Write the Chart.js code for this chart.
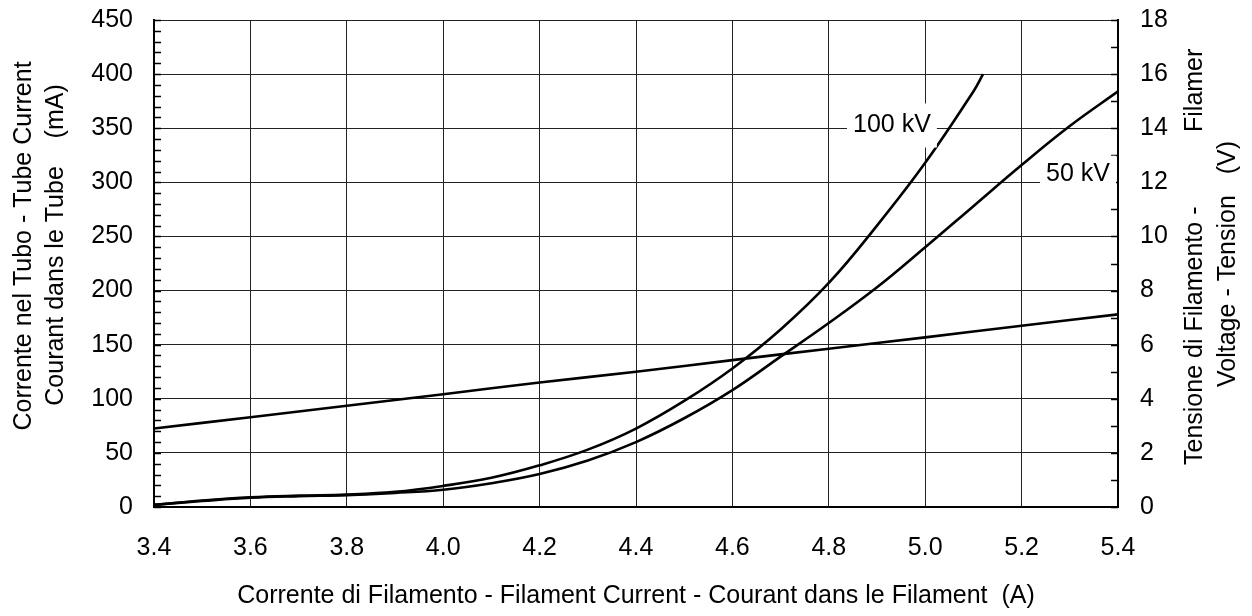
<!DOCTYPE html>
<html>
<head>
<meta charset="utf-8">
<script src="https://cdn.jsdelivr.net/npm/chart.js@4"></script>
<style>
  html, body { margin: 0; padding: 0; background: #fff; overflow: hidden; }
  #wrap { width: 1252px; height: 616px; }
</style>
</head>
<body>
<div id="wrap"><canvas id="tubeChart" width="1252" height="616"></canvas></div>
<script>
// filament current (A) -> tube current (mA), two anode voltages
const current100 = [3.4, 3.5, 3.6, 3.7, 3.8, 3.9, 4.0, 4.1, 4.2, 4.3, 4.4, 4.5, 4.6, 4.7, 4.8, 4.9, 5.0, 5.1, 5.12];
const tube100kV  = [2, 6, 9, 10.5, 11.5, 14, 19.5, 27, 38.5, 53, 72.5, 98, 128, 164, 207, 260, 318, 384, 400];

const current50 = [3.4, 3.5, 3.6, 3.7, 3.8, 3.9, 4.0, 4.1, 4.2, 4.3, 4.4, 4.5, 4.6, 4.7, 4.8, 4.9, 5.0, 5.1, 5.2, 5.3, 5.4];
const tube50kV  = [2, 5.5, 8.5, 10, 11, 13, 16, 22, 30.5, 43, 60, 82, 108, 139, 170, 203, 240, 278, 316, 352, 384];

// filament current (A) -> filament voltage (V), right axis
const currentV = [3.4, 3.6, 3.8, 4.0, 4.2, 4.4, 4.6, 4.8, 5.0, 5.2, 5.4];
const filamentVoltage = [2.9, 3.32, 3.74, 4.17, 4.6, 5.0, 5.43, 5.85, 6.27, 6.7, 7.12];

const curveLabels = ['100 kV', '50 kV'];
const curveLabelAt = [[4.931, 352.5], [5.317, 308]];

const FONT = '"Liberation Sans", Arial, sans-serif';
const toXY = (xs, ys) => xs.map((x, i) => ({ x: x, y: ys[i] }));

const extras = {
    id: 'extras',
    beforeDatasetsDraw(c) {
        const ctx = c.ctx, a = c.chartArea;
        const y = c.scales.y, y2 = c.scales.y2;
        ctx.save();
        ctx.strokeStyle = '#000';
        ctx.lineWidth = 1.5;
        ctx.beginPath();
        for (let v = 0; v <= 450; v += 10) {
            const py = Math.round(y.getPixelForValue(v)) + 0.5;
            ctx.moveTo(a.left, py); ctx.lineTo(a.left + 7, py);
        }
        for (let v = 0; v <= 18; v += 1) {
            const py = Math.round(y2.getPixelForValue(v)) + 0.5;
            ctx.moveTo(a.right - 7, py); ctx.lineTo(a.right, py);
        }
        ctx.stroke();
        ctx.restore();
    },
    afterDatasetsDraw(c) {
        const ctx = c.ctx;
        ctx.save();
        ctx.font = '25px ' + FONT;
        ctx.textAlign = 'center';
        ctx.textBaseline = 'middle';
        curveLabels.forEach((t, i) => {
            const px = c.scales.x.getPixelForValue(curveLabelAt[i][0]);
            const py = c.scales.y.getPixelForValue(curveLabelAt[i][1]);
            const w = ctx.measureText(t).width + 12;
            const h = i === 0 ? 44 : 36;
            ctx.fillStyle = '#fff';
            ctx.fillRect(px - w / 2, py - h / 2, w, h);
            ctx.fillStyle = '#000';
            ctx.fillText(t, px, py);
        });
        ctx.restore();
    },
    afterDraw(c) {
        const ctx = c.ctx;
        ctx.save();
        ctx.font = '25px ' + FONT;
        ctx.fillStyle = '#000';
        ctx.textBaseline = 'alphabetic';
        // bottom title
        ctx.textAlign = 'center';
        ctx.fillText('Corrente di Filamento - Filament Current - Courant dans le Filament  (A)', 636, 603);
        const vtext = (t, x, y, align) => {
            ctx.save();
            ctx.translate(x, y);
            ctx.rotate(-Math.PI / 2);
            ctx.textAlign = align;
            ctx.fillText(t, 0, 0);
            ctx.restore();
        };
        // left title
        vtext('Corrente nel Tubo - Tube Current', 31, 246, 'center');
        vtext('Courant dans le Tube    (mA)', 63, 245, 'center');
        // right title
        vtext('Tensione di Filamento -', 1202, 465, 'left');
        vtext('Filamer', 1202, 132, 'left');
        vtext('Voltage - Tension   (V)', 1235, 264, 'center');
        ctx.restore();
    }
};

const noPad = s => { s.paddingTop = 0; s.paddingBottom = 0; s.paddingLeft = 0; s.paddingRight = 0; };

let chart;
function initChart() {
    const ctx = document.getElementById('tubeChart').getContext('2d');
    const line = (data, axis) => ({
        data: data,
        yAxisID: axis,
        borderColor: '#000',
        borderWidth: 2.6,
        pointRadius: 0,
        tension: 0.4,
        fill: false
    });
    const tickFont = { family: FONT, size: 25 };
    chart = new Chart(ctx, {
        type: 'line',
        data: {
            datasets: [
                line(toXY(current100, tube100kV), 'y'),
                line(toXY(current50, tube50kV), 'y'),
                line(toXY(currentV, filamentVoltage), 'y2')
            ]
        },
        options: {
            responsive: false,
            animation: false,
            layout: { padding: { top: 20, left: 0, right: 0, bottom: 0 } },
            plugins: { legend: { display: false }, tooltip: { enabled: false } },
            scales: {
                x: {
                    type: 'linear', min: 3.4, max: 5.4,
                    afterFit: s => { s.height = 109; noPad(s); },
                    grid: { color: '#222', lineWidth: 1, drawTicks: false },
                    border: { color: '#000', width: 2 },
                    ticks: { stepSize: 0.2, padding: 26, color: '#000', font: tickFont, maxRotation: 0,
                             callback: v => v.toFixed(1) }
                },
                y: {
                    position: 'left', min: 0, max: 450,
                    afterFit: s => { s.width = 154; noPad(s); },
                    grid: { color: '#222', lineWidth: 1, drawTicks: false },
                    border: { color: '#000', width: 2 },
                    ticks: { stepSize: 50, padding: 21, color: '#000', font: tickFont }
                },
                y2: {
                    position: 'right', min: 0, max: 18,
                    afterFit: s => { s.width = 134; noPad(s); },
                    grid: { display: false, drawTicks: false },
                    border: { color: '#000', width: 2 },
                    ticks: { stepSize: 2, padding: 22, color: '#000', font: tickFont }
                }
            }
        },
        plugins: [extras]
    });
}

initChart();
</script>
</body>
</html>
